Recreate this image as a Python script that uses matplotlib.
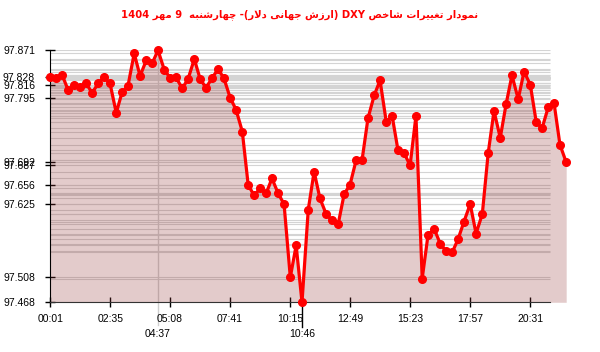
import re
import matplotlib
matplotlib.use("Agg")
import matplotlib.pyplot as plt
import numpy as np

# ---------------- data ----------------
TITLE = "نمودار تغییرات شاخص DXY (ارزش جهانی دلار)- چهارشنبه  9 مهر 1404"

times = [
    "00:01", "00:16", "00:31", "00:47", "01:02", "01:17", "01:33", "01:48", "02:04", "02:19",
    "02:34", "02:50", "03:05", "03:20", "03:36", "03:51", "04:07", "04:22", "04:37", "04:53",
    "05:08", "05:23", "05:39", "05:54", "06:10", "06:25", "06:40", "06:56", "07:11", "07:26",
    "07:42", "07:57", "08:13", "08:28", "08:43", "08:59", "09:14", "09:29", "09:45", "10:00",
    "10:16", "10:31", "10:46", "11:02", "11:17", "11:32", "11:48", "12:03", "12:19", "12:34",
    "12:49", "13:05", "13:20", "13:35", "13:51", "14:06", "14:22", "14:37", "14:52", "15:08",
    "15:23", "15:38", "15:54", "16:09", "16:25", "16:40", "16:55", "17:11", "17:26", "17:41",
    "17:57", "18:12", "18:28", "18:43", "18:58", "19:14", "19:29", "19:44", "20:00", "20:15",
    "20:31", "20:46", "21:01", "21:17", "21:32", "21:47", "22:03",
]

values = [
    97.828, 97.827, 97.832, 97.807, 97.815, 97.813, 97.818, 97.803, 97.818, 97.828,
    97.818, 97.771, 97.804, 97.814, 97.866, 97.830, 97.855, 97.850, 97.871, 97.840,
    97.827, 97.828, 97.810, 97.825, 97.857, 97.825, 97.811, 97.827, 97.841, 97.826,
    97.795, 97.776, 97.741, 97.656, 97.639, 97.650, 97.642, 97.666, 97.642, 97.625,
    97.508, 97.559, 97.468, 97.616, 97.677, 97.634, 97.609, 97.599, 97.594, 97.641,
    97.656, 97.696, 97.696, 97.762, 97.799, 97.823, 97.756, 97.766, 97.711, 97.706,
    97.687, 97.766, 97.506, 97.576, 97.585, 97.562, 97.550, 97.548, 97.569, 97.597,
    97.625, 97.578, 97.609, 97.706, 97.774, 97.731, 97.785, 97.831, 97.793, 97.837,
    97.816, 97.757, 97.746, 97.780, 97.786, 97.720, 97.692,
]

xtick_labels = ["00:01", "02:35", "05:08", "07:41", "10:15", "12:49", "15:23", "17:57", "20:31"]
ytick_values = [97.871, 97.828, 97.816, 97.795, 97.692, 97.687, 97.656, 97.625, 97.508, 97.468]

# ---------------- Persian text shaping (presentation forms + visual order) ----------------
DUAL = {
    'ب': (0xFE8F, 0xFE90, 0xFE91, 0xFE92), 'ت': (0xFE95, 0xFE96, 0xFE97, 0xFE98),
    'ج': (0xFE9D, 0xFE9E, 0xFE9F, 0xFEA0), 'خ': (0xFEA5, 0xFEA6, 0xFEA7, 0xFEA8),
    'ش': (0xFEB5, 0xFEB6, 0xFEB7, 0xFEB8), 'ص': (0xFEB9, 0xFEBA, 0xFEBB, 0xFEBC),
    'غ': (0xFECD, 0xFECE, 0xFECF, 0xFED0), 'ل': (0xFEDD, 0xFEDE, 0xFEDF, 0xFEE0),
    'م': (0xFEE1, 0xFEE2, 0xFEE3, 0xFEE4), 'ن': (0xFEE5, 0xFEE6, 0xFEE7, 0xFEE8),
    'ه': (0xFEE9, 0xFEEA, 0xFEEB, 0xFEEC), 'ی': (0xFBFC, 0xFBFD, 0xFBFE, 0xFBFF),
    'چ': (0xFB7A, 0xFB7B, 0xFB7C, 0xFB7D),
}
RIGHT = {'ا': (0xFE8D, 0xFE8E), 'د': (0xFEA9, 0xFEAA), 'ر': (0xFEAD, 0xFEAE),
         'ز': (0xFEAF, 0xFEB0), 'و': (0xFEED, 0xFEEE)}


def _is_ar(c):
    return c in DUAL or c in RIGHT


def shape(s):
    out, i, n = [], 0, len(s)
    while i < n:
        c = s[i]
        if not _is_ar(c):
            out.append(c)
            i += 1
            continue
        pj = i > 0 and s[i - 1] in DUAL
        if c == 'ل' and i + 1 < n and s[i + 1] == 'ا':
            out.append(chr(0xFEFC if pj else 0xFEFB))
            i += 2
            continue
        nj = c in DUAL and i + 1 < n and _is_ar(s[i + 1])
        if c in DUAL:
            iso, fin, ini, med = DUAL[c]
            out.append(chr(med if (pj and nj) else fin if pj else ini if nj else iso))
        else:
            iso, fin = RIGHT[c]
            out.append(chr(fin if pj else iso))
        i += 1
    return "".join(out)


def visual(s):
    r = shape(s)[::-1]
    r = re.sub(r"[0-9A-Za-z.]+", lambda m: m.group(0)[::-1], r)
    return r.translate(str.maketrans("()", ")("))


def to_min(t):
    return int(t[:2]) * 60 + int(t[3:])


# ---------------- figure ----------------
W, H = 600, 352
plt.rcParams['font.family'] = ['Liberation Sans', 'DejaVu Sans']
fig = plt.figure(figsize=(W / 100, H / 100), dpi=100)
fig.patch.set_facecolor("white")

X0, X1, Y0, Y1 = 50.3, 566.2, 50.3, 302.3
ax = fig.add_axes([X0 / W, 1 - Y1 / H, (X1 - X0) / W, (Y1 - Y0) / H])
ax.set_facecolor("none")

mins = np.array([to_min(t) for t in times], dtype=float)
vals = np.array(values)
ax.set_xlim(mins[0], mins[-1])
ax.set_ylim(vals.min(), vals.max())

x_end = mins[0] + (550 - X0) / (X1 - X0) * (mins[-1] - mins[0])

# horizontal lines at every value
ax.hlines(vals, mins[0], x_end, colors="#d4d4d4", lw=0.8, zorder=1)

# vertical marker at max
imax = int(np.argmax(vals))
imin = int(np.argmin(vals))
ax.plot([mins[imax], mins[imax]], [1, -(325 - Y1) / (Y1 - Y0)],
        transform=ax.get_xaxis_transform(), color="#cfcfcf", lw=1, clip_on=False, zorder=1.5)
ax.plot([mins[imin], mins[imin]], [0, -(327 - Y1) / (Y1 - Y0)],
        transform=ax.get_xaxis_transform(), color="black", lw=1, clip_on=False, zorder=1.5)

# area
ax.fill_between(mins, vals, vals.min(), color=(147 / 255, 51 / 255, 51 / 255), alpha=0.25,
                lw=0, zorder=2, clip_on=False)

# line
ax.plot(mins, vals, color="#ff0000", lw=2.3, marker="o", ms=5.5, zorder=5, clip_on=False)

# axes styling
for s in ("top", "right"):
    ax.spines[s].set_visible(False)
ax.spines["left"].set_color("black")
ax.spines["bottom"].set_color("#333333")
ax.spines["bottom"].set_bounds(mins[0], x_end)

ax.set_xticks([to_min(t) for t in xtick_labels])
ax.set_xticklabels(xtick_labels)
ax.set_yticks(ytick_values)
ax.set_yticklabels([f"{v:.3f}" for v in ytick_values])
ax.tick_params(axis="both", direction="inout", length=7, width=1, colors="black", labelsize=7.5)
ax.tick_params(axis="y", pad=7.5)
ax.tick_params(axis="x", pad=5)

# extra labels (max / min times)
for i in (imax, imin):
    xp = X0 + (mins[i] - mins[0]) / (mins[-1] - mins[0]) * (X1 - X0)
    fig.text(xp / W, 1 - 334 / H, times[i], ha="center", va="center", fontsize=7.5)

fig.text(0.5, 1 - 15 / H, visual(TITLE), ha="center", va="center", color="#ff0000",
         fontsize=7.2, fontweight="bold", family="DejaVu Sans")

fig.savefig("out.png", dpi=100)
